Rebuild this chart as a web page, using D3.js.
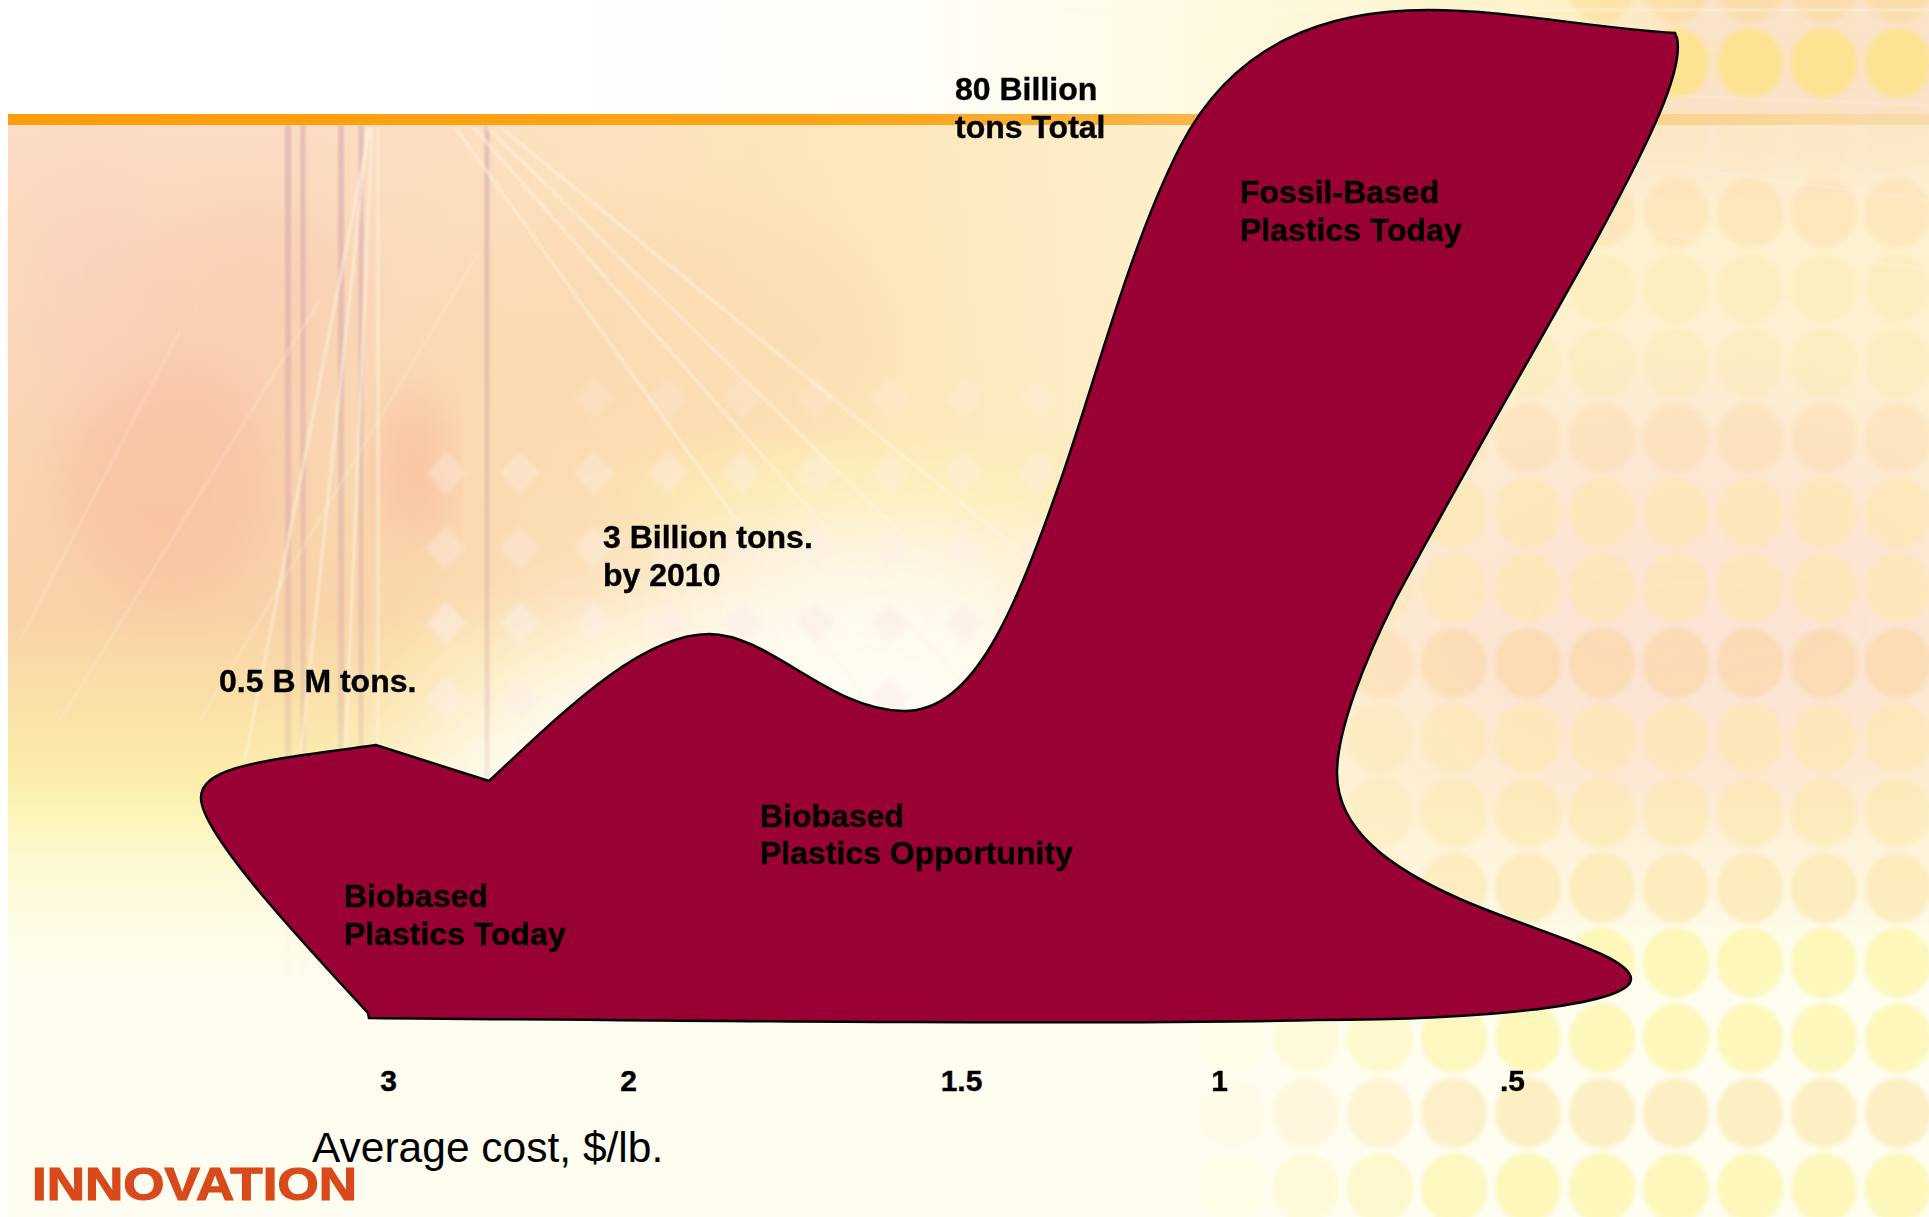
<!DOCTYPE html>
<html>
<head>
<meta charset="utf-8">
<script src="https://cdn.jsdelivr.net/npm/d3@7"></script>
<style>
    html, body { margin: 0; padding: 0; background: #fff; overflow: hidden; }
    svg { display: block; }
    text { font-family: "Liberation Sans", Arial, sans-serif; }
    .label { font-size: 32px; font-weight: bold; fill: #000; stroke: #000; stroke-width: 0.4px; }
    .tick-axis text { font-size: 30px; font-weight: bold; fill: #000; stroke: #000; stroke-width: 0.4px; font-family: "Liberation Sans", Arial, sans-serif; }
</style>
</head>
<body>
<div id="wrapper"></div>
<script>
// values, in picture units
const costTicks = [3, 2, 1.5, 1, 0.5];
const costTickLabels = ["3", "2", "1.5", "1", ".5"];
const costTickPositions = [388, 628, 961, 1219, 1512];

// outline: start point, then [x,y] straight or [c1x,c1y,c2x,c2y,x,y] curved
const outlineStart = [489, 781];
const outlineTop = [
    [560,715,640,634,709,634],
    [770,634,830,711,904,711],
    [975,711,1015,610,1060,482],
    [1095,382,1130,245,1180,147],
    [1235,40,1330,10,1428,10],
    [1510,10,1590,28,1675,33],
];
const outlineRight = [
    [1677,38],
    [1684,70,1650,140,1600,233],
    [1545,333,1470,460,1395,600],
    [1365,660,1337,730,1337,773],
    [1337,830,1390,868,1460,899],
    [1530,930,1631,955,1631,979],
    [1631,1003,1500,1020,1316,1020],
];
const outlineBottom = [
    [1100,1025,700,1021,369,1018],
    [368,1013],
];
const outlineLeft = [
    [310,950,201,835,201,798],
    [201,765,270,760,376,745],
    [489,781],
];

const labelLines = [
    ["80 Billion", 955, 100], ["tons Total", 955, 138],
    ["Fossil-Based", 1240, 203], ["Plastics Today", 1240, 241],
    ["3 Billion tons.", 603, 548], ["by 2010", 603, 586],
    ["0.5 B M tons.", 219, 692],
    ["Biobased", 760, 827], ["Plastics Opportunity", 760, 864],
    ["Biobased", 344, 907], ["Plastics Today", 344, 945],
];

const dimensions = { width: 1929, height: 1217 };

const xScale = d3.scaleLinear().domain([0, 1929]).range([0, dimensions.width]);
const yScale = d3.scaleLinear().domain([0, 1217]).range([0, dimensions.height]);
const costScale = d3.scaleLinear().domain(costTicks).range(costTickPositions);

const wrapper = d3.select("#wrapper")
    .append("svg")
    .attr("width", dimensions.width)
    .attr("height", dimensions.height);

const defs = wrapper.append("defs");

function addGradient(id, x1, y1, x2, y2, stops) {
    const g = defs.append("linearGradient")
        .attr("id", id)
        .attr("gradientUnits", "userSpaceOnUse")
        .attr("x1", x1).attr("y1", y1).attr("x2", x2).attr("y2", y2);
    stops.forEach(s => {
        g.append("stop")
            .attr("offset", s[0])
            .attr("stop-color", s[1])
            .attr("stop-opacity", s[2] === undefined ? 1 : s[2]);
    });
}

addGradient("leftWash", 0, 125, 0, 1217, [
    [0, "#fbdcc4"], [0.45, "#f9d2a8"], [0.56, "#fbe6a8"], [0.63, "#fbf3b0"],
    [0.74, "#fdf9d2"], [0.9, "#fffdf0"], [1, "#fffef4"]]);
addGradient("rightWash", 300, 0, 1250, 0, [
    [0, "#fde9b4", 0], [0.55, "#fde9b8", 0.8], [1, "#fef1d0", 1]]);
addGradient("rightFloor", 0, 780, 0, 1000, [
    [0, "#fffdf0", 0], [1, "#fffdf0", 1]]);
addGradient("topBand", 500, 0, 1700, 0, [
    [0, "#ffffff"], [0.35, "#fffdf8"], [0.6, "#fefae0"], [0.9, "#fdf0c4"], [1, "#fbe3c8"]]);
addGradient("barFill", 8, 0, 1929, 0, [
    [0, "#ff9c0a"], [0.45, "#ffa51a"], [0.62, "#fbb548"], [0.86, "#f8c868", 0.6], [1, "#f6cf80", 0.35]]);
addGradient("mauveLine", 0, 125, 0, 1000, [
    [0, "#c89aa8", 0.45], [0.65, "#c89aa8", 0.28], [1, "#e8c8b0", 0]]);

defs.append("filter").attr("id", "soft").attr("x", "-30%").attr("y", "-30%").attr("width", "160%").attr("height", "160%")
    .append("feGaussianBlur").attr("stdDeviation", 26);
defs.append("filter").attr("id", "softer").attr("x", "-50%").attr("y", "-50%").attr("width", "200%").attr("height", "200%")
    .append("feGaussianBlur").attr("stdDeviation", 70);
defs.append("filter").attr("id", "dotEdge")
    .append("feGaussianBlur").attr("stdDeviation", 2);
defs.append("filter").attr("id", "lineEdge").attr("filterUnits", "userSpaceOnUse")
    .attr("x", 0).attr("y", 0).attr("width", 1929).attr("height", 1217)
    .append("feGaussianBlur").attr("stdDeviation", 0.8);

// background
const bg = wrapper.append("g");

bg.append("rect").attr("x", 8).attr("y", 125).attr("width", 1921).attr("height", 1092).attr("fill", "url(#leftWash)");
bg.append("rect").attr("x", 300).attr("y", 125).attr("width", 1629).attr("height", 800).attr("fill", "url(#rightWash)");
bg.append("rect").attr("x", 8).attr("y", 0).attr("width", 1921).attr("height", 125).attr("fill", "url(#topBand)");

// soft patches: red on the left, white bottom middle, pink on the right
const washes = bg.append("g");
[
    [170, 480, 110, 120, "#f7a890", 0.32, "soft"],
    [415, 465, 30, 80, "#f6a48c", 0.45, "soft"],
    [250, 300, 120, 110, "#f8b8a0", 0.2, "soft"],
    [90, 280, 70, 120, "#fbc8c0", 0.3, "soft"],
    [650, 340, 240, 130, "#fcd6b0", 0.4, "soft"],
    [860, 490, 240, 36, "#fbf0a0", 0.5, "soft"],
    [560, 660, 180, 40, "#fbf0a8", 0.4, "soft"],
    [800, 880, 420, 280, "#ffffff", 0.95, "softer"],
    [880, 620, 190, 90, "#fffdf4", 0.9, "softer"],
    [1700, 620, 330, 210, "#f7d0d8", 0.38, "softer"],
    [1700, 130, 330, 60, "#fbe0c8", 0.5, "soft"],
].forEach(w => {
    washes.append("ellipse")
        .attr("cx", xScale(w[0])).attr("cy", yScale(w[1]))
        .attr("rx", w[2]).attr("ry", w[3])
        .attr("fill", w[4]).attr("opacity", w[5])
        .attr("filter", `url(#${w[6]})`);
});

bg.append("rect").attr("x", 8).attr("y", 780).attr("width", 1921).attr("height", 437).attr("fill", "url(#rightFloor)");

// pale diamonds left of the dots
const diamonds = bg.append("g").attr("fill", "#fdeee8");
d3.range(446, 1150, 74).forEach(x => {
    d3.range(398, 720, 75).forEach(y => {
        if (x < 590 && y < 470) return;
        const o = y > 600 ? 0.55 : (y > 450 ? 0.38 : 0.22);
        diamonds.append("path")
            .attr("d", `M${x},${y-22}L${x+20},${y}L${x},${y+22}L${x-20},${y}Z`)
            .attr("opacity", o)
            .attr("filter", "url(#dotEdge)");
    });
});

// dot grid on the right
const dots = bg.append("g").attr("filter", "url(#dotEdge)");
d3.range(1898, 1100, -74).forEach((x, col) => {
    d3.range(-12, 1260, 75).forEach((y, row) => {
        if (y < 125 && x < 1600) return;
        let o;
        if (y < 0) o = 0.3;
        else if (y < 125) o = 0.6;
        else if (y < 170) o = 0.12;
        else if (y < 480) o = 0.26;
        else if (y < 820) o = 0.42;
        else o = 0.55;
        const fade = Math.max(0, Math.min(1, (x - 1180) / 300));
        o *= fade;
        const warm = (col * 3 + row * 5) % 3 === 0;
        const fill = y < 125 ? (warm ? "#fbcf70" : "#fde470")
            : y < 820 ? (warm ? "#fbcf8c" : "#fde79c") : (warm ? "#fce3a0" : "#fcf290");
        dots.append("ellipse")
            .attr("cx", xScale(x)).attr("cy", yScale(y))
            .attr("rx", 33).attr("ry", 35)
            .attr("fill", fill).attr("opacity", o);
    });
});

// rays
const rays = bg.append("g").attr("fill", "none").attr("filter", "url(#lineEdge)");
[[288,125,288,1000,6],[303,125,303,1000,5],[341,125,341,1000,6],[361,125,361,1000,5],[487,125,487,1000,5]].forEach(r => {
    rays.append("line").attr("x1", r[0]).attr("y1", r[1]).attr("x2", r[2] + 0.1).attr("y2", r[3])
        .attr("stroke", "url(#mauveLine)").attr("stroke-width", r[4]);
});
[[370,127,245,760],[368,127,300,760],[372,127,345,760],[378,127,378,760],[455,127,880,720],[473,127,960,680],[487,127,1010,640],[500,127,1080,600]].forEach(r => {
    rays.append("line").attr("x1", r[0]).attr("y1", r[1]).attr("x2", r[2]).attr("y2", r[3])
        .attr("stroke", "#fff6e4").attr("stroke-width", 3).attr("opacity", 0.55);
});
[[20,640,180,330],[60,720,320,300],[200,720,480,250],[1650,95,1929,105],[1660,165,1929,200],[1640,230,1929,270]].forEach(r => {
    rays.append("line").attr("x1", r[0]).attr("y1", r[1]).attr("x2", r[2]).attr("y2", r[3])
        .attr("stroke", "#fff8ea").attr("stroke-width", 2.5).attr("opacity", 0.25);
});
rays.append("line").attr("x1", 1000).attr("y1", 10).attr("x2", 1929).attr("y2", 10.1)
    .attr("stroke", "#fff8ea").attr("stroke-width", 2).attr("opacity", 0.6);

// orange bar under the header
wrapper.append("rect")
    .attr("x", 8).attr("y", 114)
    .attr("width", 1921).attr("height", 11)
    .attr("fill", "url(#barFill)");

// the shape
const outlinePath = d3.path();
outlinePath.moveTo(xScale(outlineStart[0]), yScale(outlineStart[1]));
[...outlineTop, ...outlineRight, ...outlineBottom, ...outlineLeft].forEach(s => {
    if (s.length === 2) {
        outlinePath.lineTo(xScale(s[0]), yScale(s[1]));
    } else {
        outlinePath.bezierCurveTo(xScale(s[0]), yScale(s[1]), xScale(s[2]), yScale(s[3]), xScale(s[4]), yScale(s[5]));
    }
});
outlinePath.closePath();

wrapper.append("path")
    .attr("d", outlinePath.toString())
    .attr("fill", "#990033")
    .attr("stroke", "#000")
    .attr("stroke-width", 2.5)
    .attr("stroke-linejoin", "miter");

// labels
wrapper.selectAll(".label")
    .data(labelLines)
    .enter()
    .append("text")
    .attr("class", "label")
    .attr("x", d => xScale(d[1]))
    .attr("y", d => yScale(d[2]))
    .text(d => d[0]);

// cost axis
const axis = d3.axisBottom(costScale)
    .tickValues(costTicks)
    .tickSize(0)
    .tickPadding(0)
    .tickFormat((d, i) => costTickLabels[i]);

const axisGroup = wrapper.append("g")
    .attr("class", "tick-axis")
    .attr("transform", `translate(0, ${yScale(1070)})`)
    .call(axis);
axisGroup.select(".domain").remove();

wrapper.append("text")
    .attr("x", xScale(32)).attr("y", yScale(1200))
    .attr("textLength", 325).attr("lengthAdjust", "spacingAndGlyphs")
    .attr("font-size", 46).attr("font-weight", "bold")
    .attr("fill", "#d8491c").attr("stroke", "#d8491c").attr("stroke-width", 1.2)
    .text("INNOVATION");

wrapper.append("text")
    .attr("x", xScale(312)).attr("y", yScale(1162))
    .attr("font-size", 42.5).attr("fill", "#000")
    .text("Average cost, $/lb.");
</script>
</body>
</html>
